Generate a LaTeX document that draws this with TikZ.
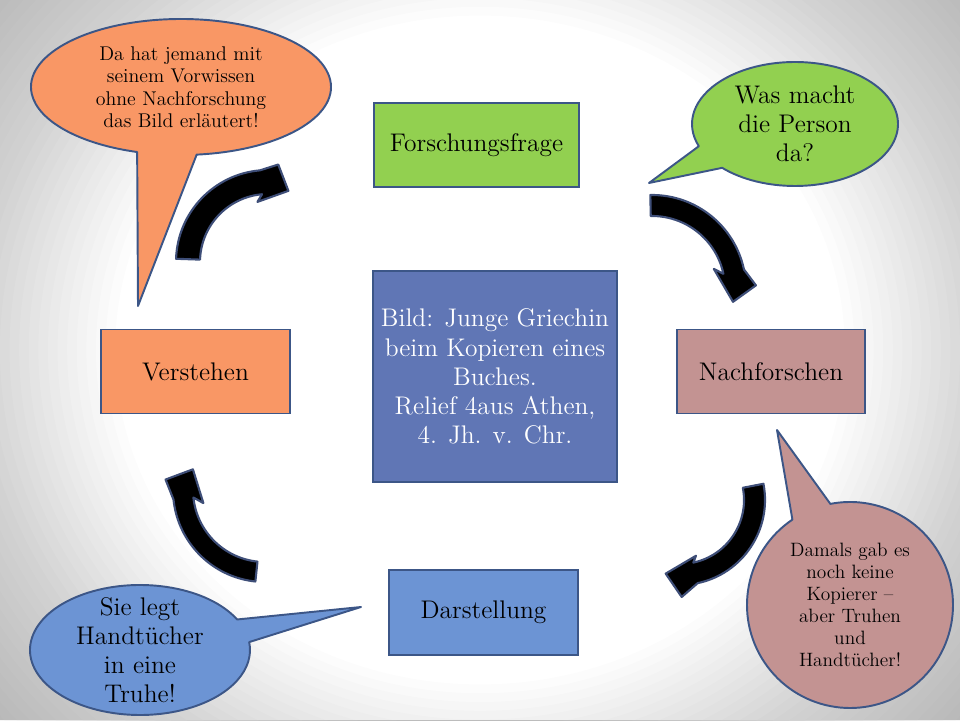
\documentclass[tikz,border=0pt]{standalone}
\usetikzlibrary{calc}
\definecolor{boxline}{RGB}{60,86,135}
\definecolor{arrowline}{RGB}{62,78,120}
\definecolor{frageGreen}{RGB}{146,208,80}
\definecolor{verstehenOrange}{RGB}{249,151,101}
\definecolor{nachRose}{RGB}{195,147,146}
\definecolor{bildBlue}{RGB}{96,118,181}
\definecolor{darstBlue}{RGB}{108,148,212}

\begin{document}
\begin{tikzpicture}[x=0.02cm, y=0.02cm, font=\fontsize{14.5}{16.6}\selectfont,
  stage/.style={draw=boxline, line width=1.1pt, minimum height=1.68cm, align=center, inner sep=0pt},
  bubble/.style={draw=boxline, line width=1.1pt, line join=round},
  talk/.style={align=center, inner sep=0pt},
  smalltalk/.style={align=center, inner sep=0pt, font=\fontsize{11.3}{12.8}\selectfont},
  cyclearrow/.style={fill=black, draw=arrowline, line width=1.2pt, line join=round},
  vignette/.style={black, fill opacity=0.012, even odd rule}]
\useasboundingbox (0,0) rectangle (960,720);
% grey edges of the slide
\foreach \r in {0.76,0.78,...,1.37}
  \fill[vignette] (0,0) rectangle (960,720) (480,370) ellipse [x radius=480*\r, y radius=440*\r];
%
\coordinate (vorwissen c) at (181,633);
\coordinate (vorwissen tip) at (138,414);
\coordinate (person c) at (795,596);
\coordinate (person tip) at (649,537);
\coordinate (kopierer c) at (850,115);
\coordinate (kopierer tip) at (777,290);
\coordinate (truhe c) at (140,70);
\coordinate (truhe tip) at (361,113);
%
\draw[bubble, fill=verstehenOrange] (vorwissen tip) -- ($(vorwissen c)+(276:150 and 68)$) arc[start angle=276, end angle=613, x radius=150, y radius=68] -- cycle;
\draw[bubble, fill=frageGreen] (person tip) -- ($(person c)+(225:103 and 62)$) arc[start angle=225, end angle=561, x radius=103, y radius=62] -- cycle;
\draw[bubble, fill=nachRose] (kopierer tip) -- ($(kopierer c)+(124:103)$) arc[start angle=124, end angle=461, radius=103] -- cycle;
\draw[bubble, fill=darstBlue] (truhe tip) -- ($(truhe c)+(28:110 and 65)$) arc[start angle=28, end angle=367, x radius=110, y radius=65] -- cycle;
%
\node[smalltalk] (vorwissen) at (vorwissen c) {Da hat jemand mit\\seinem Vorwissen\\ohne Nachforschung\\das Bild erläutert!};
\node[talk] (person) at (person c) {Was macht\\die Person\\da?};
\node[smalltalk, font=\fontsize{11}{12.6}\selectfont] (kopierer) at (kopierer c) {Damals gab es\\noch keine\\Kopierer –\\aber Truhen\\und\\Handtücher!};
\node[talk] (truhe) at (truhe c) {Sie legt\\Handtücher\\in eine\\Truhe!};
%
\begin{scope}[shift={(268,458)}]
\draw[cyclearrow] (178:92) arc[start angle=178, end angle=95, radius=92] -- (84:98) -- (74:74) -- (100:61) -- (95:68) arc[start angle=95, end angle=178, radius=68] -- cycle;
\end{scope}
\begin{scope}[shift={(652,431)}]
\draw[cyclearrow] (91:94) arc[start angle=91, end angle=12, radius=94] -- (2:104) -- (-9:82) -- (18:65) -- (12:73) arc[start angle=12, end angle=91, radius=73] -- cycle;
\end{scope}
\begin{scope}[shift={(680,220)}]
\draw[cyclearrow] (11:85) arc[start angle=11, end angle=-78, radius=85] -- (-89:97) -- (-101:75) -- (-74:58) -- (-78:64) arc[start angle=-78, end angle=11, radius=64] -- cycle;
\end{scope}
\begin{scope}[shift={(265,230)}]
\draw[cyclearrow] (264:92) arc[start angle=264, end angle=186, radius=92] -- (174:100) -- (164:75) -- (192:63) -- (186:72) arc[start angle=186, end angle=264, radius=72] -- cycle;
\end{scope}
%
\node[stage, fill=frageGreen, minimum width=4.1cm] (frage) at (476.5,575) {Forschungsfrage};
\node[stage, fill=nachRose, minimum width=3.76cm] (nachforschen) at (771,348.5) {Nachforschen};
\node[stage, fill=darstBlue, minimum width=3.78cm, minimum height=1.7cm] (darstellung) at (483.5,107.5) {Darstellung};
\node[stage, fill=verstehenOrange, minimum width=3.78cm] (verstehen) at (195.5,348.5) {Verstehen};
\node[stage, fill=bildBlue, text=white, minimum width=4.88cm, minimum height=4.22cm] (bild) at (495,343.5) {Bild: Junge Griechin\\beim Kopieren eines\\Buches.\\Relief 4aus Athen,\\4. Jh. v. Chr.};
\end{tikzpicture}
\end{document}
